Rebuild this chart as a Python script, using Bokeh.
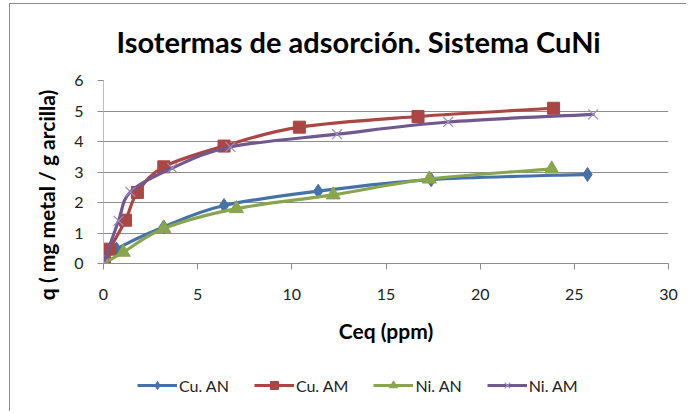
from bokeh.plotting import figure
from bokeh.layouts import column
from bokeh.models import Range1d, Legend, LegendItem, FixedTicker
from bokeh.embed import file_html
from bokeh.resources import INLINE

title_text = "Isotermas de adsorción. Sistema CuNi"
x_label = "Ceq (ppm)"
y_label = "q ( mg metal / g arcilla)"

series_names = ["Cu. AN", "Cu. AM", "Ni. AN", "Ni. AM"]
cu_an_x = [0.0, 0.7, 3.2, 6.4, 11.4, 17.4, 25.7]
cu_an_y = [0.0, 0.47, 1.2, 1.9, 2.37, 2.75, 2.92]
cu_am_x = [0.05, 0.33, 1.17, 1.8, 3.2, 6.4, 10.4, 16.7, 23.9]
cu_am_y = [0.03, 0.47, 1.42, 2.33, 3.17, 3.85, 4.47, 4.82, 5.09]
ni_an_x = [0.0, 1.05, 3.2, 7.06, 12.2, 17.3, 23.8]
ni_an_y = [0.0, 0.37, 1.15, 1.8, 2.25, 2.77, 3.1]
ni_am_x = [0.0, 0.8, 1.43, 3.65, 6.74, 12.4, 18.3, 26.0]
ni_am_y = [0.0, 1.4, 2.35, 3.13, 3.82, 4.24, 4.64, 4.89]

colors = ["#4572A7", "#AA4643", "#89A54E", "#71588F"]
markers = ["diamond", "square", "triangle", "x"]
FONT = "Lato"
BORDER_BG = {
    "background-color": "white",
    "background-image": "linear-gradient(#8c8c8c,#8c8c8c), linear-gradient(#8c8c8c,#8c8c8c)",
    "background-size": "1px 100%, 100% 1px",
    "background-position": "9px 3px, 9px 3px",
    "background-repeat": "no-repeat",
}

p = figure(width=686, height=363, output_backend="svg", toolbar_location=None,
           x_range=Range1d(0, 30), y_range=Range1d(0, 6),
           min_border_left=103, min_border_right=18, min_border_top=79, min_border_bottom=100)
p.outline_line_color = None
p.background_fill_color = "white"
p.border_fill_alpha = 0
p.styles = BORDER_BG

p.title.text = title_text
p.title.text_font = FONT
p.title.text_font_size = "29px"
p.title.text_font_style = "bold"
p.title.align = "left"
p.title.offset = 13
p.title.standoff = 43
p.title.text_color = "black"

p.xgrid.grid_line_color = None
p.ygrid.grid_line_color = "#8c8c8c"
p.ygrid.grid_line_width = 1

p.xaxis.ticker = FixedTicker(ticks=[0, 5, 10, 15, 20, 25, 30])
p.yaxis.ticker = FixedTicker(ticks=[0, 1, 2, 3, 4, 5, 6])
for ax in (p.xaxis, p.yaxis):
    ax.major_label_text_font = FONT
    ax.major_label_text_font_size = "16px"
    ax.major_label_text_color = "#222222"
    ax.minor_tick_line_color = None
    ax.major_tick_in = 0
    ax.major_tick_out = 6
    ax.axis_label_text_font = FONT
    ax.axis_label_text_font_style = "bold"
    ax.axis_label_text_font_size = "21px"
    ax.axis_label_text_color = "black"
p.xaxis.axis_line_color = "#8c8c8c"
p.xaxis.major_tick_line_color = "#8c8c8c"
p.yaxis.axis_line_color = "#bfbfbf"
p.yaxis.major_tick_line_color = "#8c8c8c"
p.xaxis.major_label_standoff = 19
p.yaxis.major_label_standoff = 14
p.xaxis.axis_label = x_label
p.yaxis.axis_label = y_label + "\u00a0" * 9
p.xaxis.axis_label_standoff = 15
p.yaxis.axis_label_standoff = 12


def smooth(xs, ys):
    n = len(xs)
    out = dict(x0=[], y0=[], x1=[], y1=[], cx0=[], cy0=[], cx1=[], cy1=[])
    for i in range(n - 1):
        a = max(i - 1, 0)
        b = min(i + 2, n - 1)
        out["x0"].append(xs[i]); out["y0"].append(ys[i])
        out["x1"].append(xs[i + 1]); out["y1"].append(ys[i + 1])
        out["cx0"].append(xs[i] + (xs[i + 1] - xs[a]) / 6)
        out["cy0"].append(ys[i] + (ys[i + 1] - ys[a]) / 6)
        out["cx1"].append(xs[i + 1] - (xs[b] - xs[i]) / 6)
        out["cy1"].append(ys[i + 1] - (ys[b] - ys[i]) / 6)
    return out


# legend strip: second figure whose range shows none of the data, so only the legend is seen
q = figure(width=686, height=48, output_backend="svg", toolbar_location=None,
           x_range=Range1d(100, 101), y_range=Range1d(100, 101),
           x_axis_type=None, y_axis_type=None, min_border=0)
q.grid.grid_line_color = None
q.outline_line_color = None
q.background_fill_alpha = 0
q.border_fill_alpha = 0
q.styles = {
    "background-color": "white",
    "background-image": "linear-gradient(#8c8c8c,#8c8c8c)",
    "background-size": "1px 100%",
    "background-position": "9px 0px",
    "background-repeat": "no-repeat",
}

data = [(cu_an_x, cu_an_y), (cu_am_x, cu_am_y), (ni_an_x, ni_an_y), (ni_am_x, ni_am_y)]
items = []
for name, (xs, ys), c, m in zip(series_names, data, colors, markers):
    seg = smooth(xs, ys)
    p.bezier(source=seg, x0="x0", y0="y0", x1="x1", y1="y1",
             cx0="cx0", cy0="cy0", cx1="cx1", cy1="cy1",
             line_color=c, line_width=3.2, line_cap="round")
    if m == "x":
        p.scatter(xs, ys, marker="x", size=14, line_color="#9d8bbb", line_width=1.2)
        lm = q.scatter(xs, ys, marker="x", line_color="#9d8bbb", line_width=1.2)
    else:
        size = {"diamond": 14, "square": 12, "triangle": 14}[m]
        p.scatter(xs, ys, marker=m, size=size, fill_color=c, line_color=c, line_width=1)
        lm = q.scatter(xs, ys, marker=m, fill_color=c, line_color=c, line_width=1)
    ll = q.line(xs, ys, line_color=c, line_width=3.2)
    items.append(LegendItem(label=name, renderers=[ll, lm]))

legend = Legend(items=items, orientation="horizontal", location=(34, 16),
                label_text_font=FONT, label_text_font_size="16px", label_text_color="#222222",
                glyph_width=40, glyph_height=20, label_standoff=2, spacing=25,
                border_line_color=None, background_fill_alpha=0, margin=0, padding=0)
q.add_layout(legend, "center")

layout = column(p, q, spacing=0)
open("out.html", "w").write(file_html(layout, INLINE))
